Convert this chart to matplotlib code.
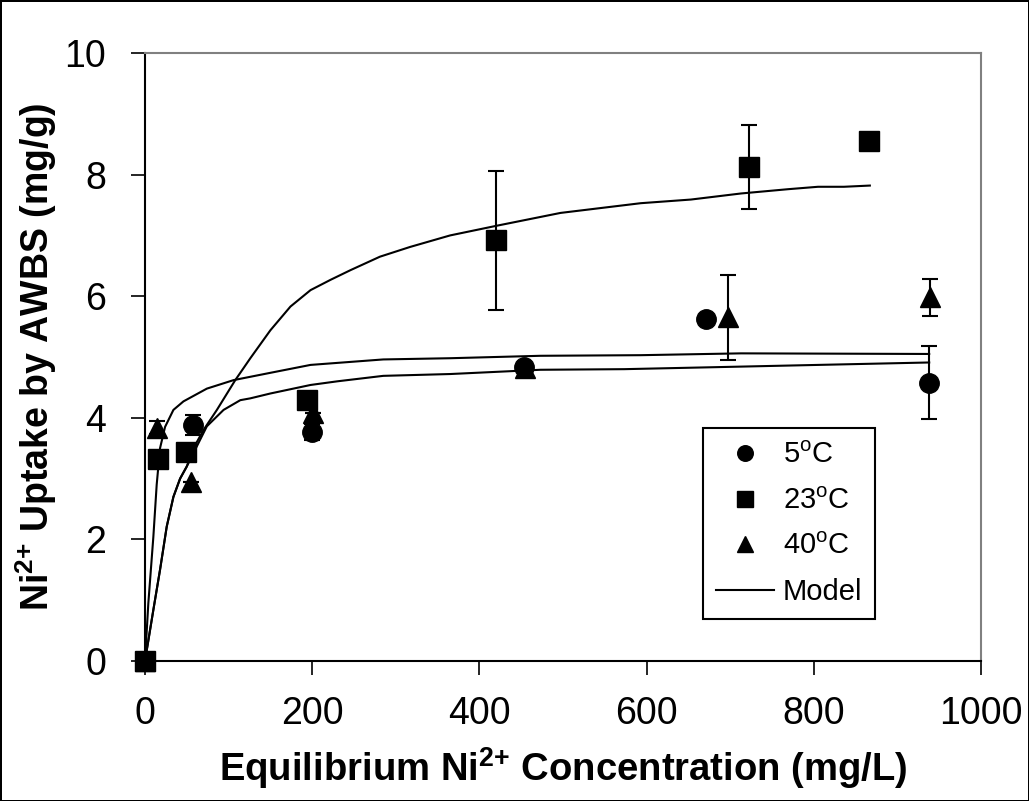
import matplotlib
matplotlib.use("Agg")
import matplotlib.pyplot as plt
import numpy as np

plt.rcParams['font.family'] = ['Liberation Sans', 'DejaVu Sans']
plt.rcParams['mathtext.fontset'] = 'custom'
plt.rcParams['mathtext.rm'] = 'Liberation Sans'
plt.rcParams['mathtext.bf'] = 'Liberation Sans:bold'
plt.rcParams['mathtext.default'] = 'bf'

# measured data (x: equilibrium conc mg/L, y: uptake mg/g, e: error)
x5 = [0, 58, 200, 453, 671, 938]
y5 = [0, 3.88, 3.77, 4.84, 5.63, 4.58]
e5 = [0, 0.16, 0.13, 0.05, 0.0, 0.60]

x23 = [0, 16, 49, 194, 420, 722, 866]
y23 = [0, 3.33, 3.43, 4.29, 6.92, 8.13, 8.56]
e23 = [0, 0.0, 0.0, 0.09, 1.14, 0.69, 0.0]

x40 = [0, 14, 55, 201, 455, 697, 939]
y40 = [0, 3.84, 2.95, 4.08, 4.82, 5.65, 5.98]
e40 = [0, 0.11, 0.0, 0.0, 0.0, 0.70, 0.30]

# model curves
mx_a = [0, 10, 18, 26, 34, 42, 50, 58, 70, 86, 108, 126, 150, 174, 198, 222,
        246, 281, 317, 365, 421, 497, 593, 653, 713, 769, 805, 836, 867]
my_a = [0, 0.84, 1.50, 2.21, 2.70, 3.00, 3.20, 3.50, 3.80, 4.13, 4.62, 4.98,
        5.44, 5.83, 6.10, 6.27, 6.43, 6.65, 6.81, 7.00, 7.16, 7.37, 7.53,
        7.59, 7.69, 7.76, 7.80, 7.80, 7.82]

mx_b = [0, 10, 18, 26, 34, 42, 50, 62, 74, 94, 114, 126, 150, 198, 230, 285,
        365, 473, 573, 673, 805, 938]
my_b = [0, 0.84, 1.50, 2.21, 2.70, 3.00, 3.20, 3.53, 3.86, 4.13, 4.29, 4.32,
        4.40, 4.54, 4.60, 4.69, 4.72, 4.79, 4.80, 4.83, 4.87, 4.91]

mx_c = [0, 4, 10, 14, 18, 24, 34, 46, 74, 106, 150, 198, 285, 365, 473, 593,
        713, 938]
my_c = [0, 0.95, 2.04, 2.90, 3.50, 3.85, 4.13, 4.27, 4.48, 4.62, 4.74, 4.87,
        4.96, 4.98, 5.02, 5.03, 5.06, 5.05]

fig = plt.figure(figsize=(10.29, 8.01), dpi=100)
fig.patch.set_edgecolor('black')
fig.patch.set_linewidth(2)
ax = fig.add_axes([0.1409, 0.1748, 0.8125, 0.759])

lw = 1.5
ln_model, = ax.plot(mx_a, my_a, color='black', lw=lw, zorder=2)
ax.plot(mx_b, my_b, color='black', lw=lw, zorder=2)
ax.plot(mx_c, my_c, color='black', lw=lw, zorder=2)

ekw = dict(ls='none', color='black', ecolor='black', elinewidth=1.5,
           capsize=6, capthick=1.5, ms=14, clip_on=False, zorder=3)
e_5 = ax.errorbar(x5, y5, yerr=e5, marker='o', **ekw)
e_23 = ax.errorbar(x23, y23, yerr=e23, marker='s', **ekw)
e_40 = ax.errorbar(x40, y40, yerr=e40, marker='^', **ekw)

ax.set_xlim(0, 1000)
ax.set_ylim(0, 10)
ax.set_xticks([0, 200, 400, 600, 800, 1000])
ax.set_yticks([0, 2, 4, 6, 8, 10])
ax.tick_params(direction='out', length=10, width=1.2, labelsize=27)
ax.tick_params(axis='x', pad=15)
ax.tick_params(axis='y', pad=18)
for s in ['top', 'right']:
    ax.spines[s].set_color('#808080')
    ax.spines[s].set_linewidth(1.5)
for s in ['left', 'bottom']:
    ax.spines[s].set_linewidth(1.5)

ax.set_xlabel('Equilibrium Ni$^{2{+}}$ Concentration (mg/L)',
              fontsize=27.5, fontweight='bold', labelpad=10)
ax.set_ylabel('Ni$^{2{+}}$ Uptake by AWBS (mg/g)',
              fontsize=27, fontweight='bold', labelpad=4)

leg = ax.legend([e_5[0], e_23[0], e_40[0], ln_model],
                ['5$^{\\mathrm{o}}$C', '23$^{\\mathrm{o}}$C',
                 '40$^{\\mathrm{o}}$C', 'Model'],
                loc='upper left', bbox_to_anchor=(0.667, 0.383),
                fontsize=21, frameon=True, fancybox=False, framealpha=1,
                edgecolor='black', handlelength=2.0, handletextpad=0.3,
                labelspacing=0.6, borderpad=0.45, borderaxespad=0,
                markerscale=0.8)
leg.get_frame().set_linewidth(1.5)

fig.savefig('out.png', dpi=100, edgecolor=fig.get_edgecolor())
